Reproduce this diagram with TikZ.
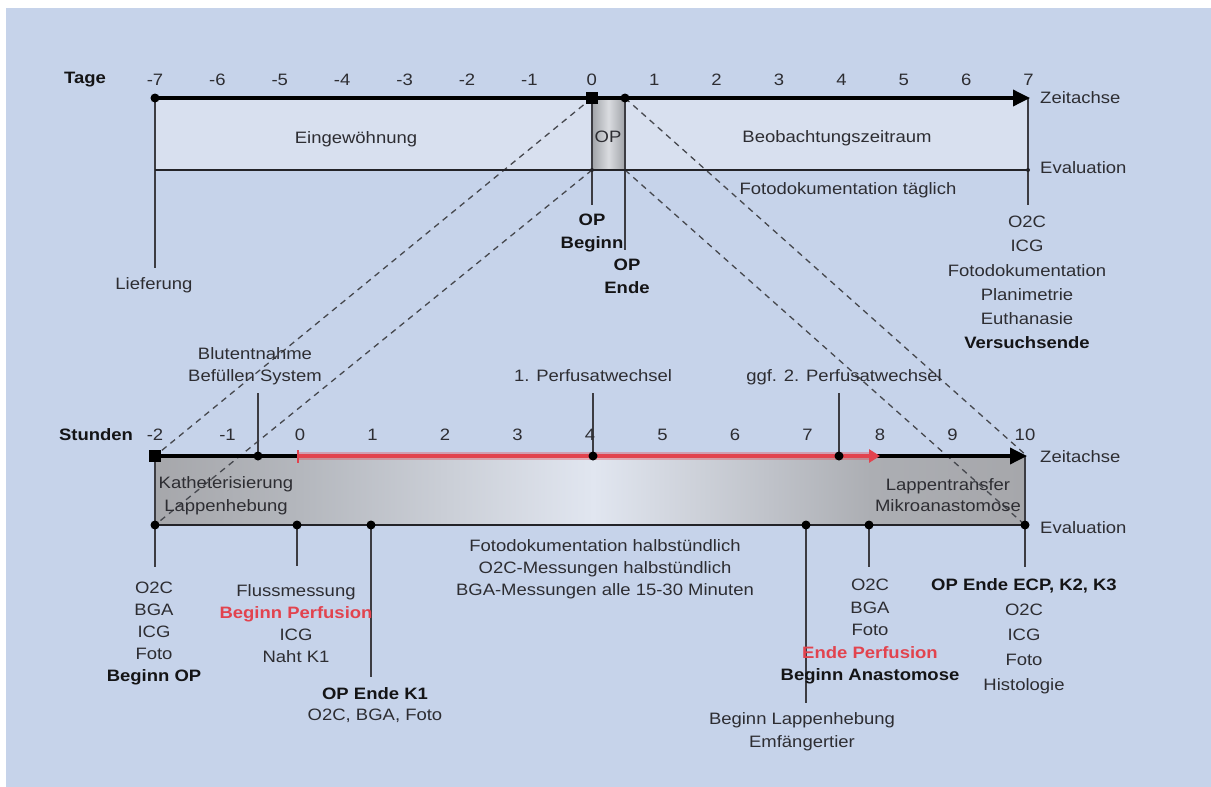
\documentclass[tikz,border=0pt]{standalone}
\usepackage{fontspec}
\setmainfont{Liberation Sans}[FakeStretch=1.12]
\usetikzlibrary{arrows.meta}
\definecolor{bgc}{RGB}{198,211,234}
\definecolor{bandc}{RGB}{216,224,239}
\definecolor{boxga}{RGB}{166,167,171}
\definecolor{boxgb}{RGB}{180,183,189}
\definecolor{boxl}{RGB}{225,230,240}
\definecolor{boxgc}{RGB}{172,174,179}
\definecolor{opg}{RGB}{160,163,168}
\definecolor{opl}{RGB}{218,220,224}
\definecolor{txtc}{RGB}{45,45,50}
\definecolor{boldc}{RGB}{20,20,22}
\definecolor{redc}{RGB}{226,67,78}
\definecolor{evc}{RGB}{35,35,40}
\definecolor{vlc}{RGB}{60,60,66}
\definecolor{dashc}{RGB}{70,72,78}
\newcommand{\fs}[1]{\fontsize{16.5}{#1}\selectfont}
\begin{document}
\begin{tikzpicture}[x=1pt,y=-1pt,
  txt/.style={text=txtc, inner sep=0pt, align=center, font=\fs{22}},
  bld/.style={txt, text=boldc, font=\fs{22}\bfseries},
  axisline/.style={line width=3.5pt, black},
  evalline/.style={line width=2.5pt, evc},
  vline/.style={line width=1.5pt, vlc},
  dashln/.style={dash pattern=on 6pt off 5pt, line width=1.3pt, dashc},
  dot/.style={circle, fill=black, inner sep=0pt, minimum size=9pt},
  smalldot/.style={circle, fill=evc, inner sep=0pt, minimum size=4pt},
  sq/.style={rectangle, fill=black, inner sep=0pt, minimum size=12pt},
  redline/.style={line width=3.8pt, redc}
]
\useasboundingbox (0,0) rectangle (1211,787);
\fill[white] (0,0) rectangle (1211,787);
\fill[bgc] (6,8) rectangle (1211,787);

% ---------- top band ----------
\fill[bandc] (155,98) rectangle (1028,170);
\shade[left color=opg, right color=opg, middle color=opl] (592,98) rectangle (625,170);

% ---------- bottom gradient box ----------
\fill[left color=boxga, right color=boxgb] (155,456) rectangle (300.5,525);
\fill[left color=boxgb, right color=boxl] (300,456) rectangle (593.5,525);
\fill[left color=boxl, right color=boxgc] (593,456) rectangle (870.5,525);
\fill[left color=boxgc, right color=boxga] (870,456) rectangle (1025,525);

% ---------- coordinates ----------
\coordinate (t0) at (155,98);
\coordinate (tarr) at (1030,98);
\coordinate (e0) at (155,170);
\coordinate (eop) at (592,170);
\coordinate (eend) at (625,170);
\coordinate (er) at (1028,170);
\coordinate (b0) at (155,456);
\coordinate (barr) at (1027,456);
\coordinate (f0) at (155,525);
\coordinate (f5) at (1025,525);
\coordinate (bz) at (297,456);
\coordinate (be) at (880,456);

% line ends
\coordinate (liefend) at (155,268);
\coordinate (opbend) at (592,205);
\coordinate (opeend) at (625,250);
\coordinate (rend) at (1028,205);
\coordinate (blutend) at (258,393);
\coordinate (vieend) at (593,393);
\coordinate (ggfend) at (839,393);
\coordinate (l1end) at (155,567);
\coordinate (l2end) at (297,566);
\coordinate (l3end) at (371,677);
\coordinate (l4end) at (806,703);
\coordinate (l5end) at (869,567);
\coordinate (l6end) at (1025,567);

% ---------- dashed zoom lines ----------
\draw[dashln] (592,98) -- (b0);
\draw[dashln] (eop) -- (f0);
\draw[dashln] (625,98) -- (barr);
\draw[dashln] (eend) -- (f5);

% ---------- top vertical lines ----------
\draw[vline] (t0) -- (liefend);
\draw[vline] (592,98) -- (opbend);
\draw[vline] (625,98) -- (opeend);
\draw[vline] (1028,98) -- (rend);

% ---------- top axes ----------
\draw[evalline] (e0) -- (er);
\draw[axisline, -{Triangle[length=17pt,width=16pt]}] (t0) -- (tarr);
\node[dot] (td0) at (t0) {};
\node[sq] (tsq) at (592,98) {};
\node[dot] (tde) at (625,98) {};
\node[smalldot] (ted1) at (eop) {};
\node[smalldot] (ted2) at (er) {};

% ---------- bottom vertical lines ----------
\draw[vline] (258,456) -- (blutend);
\draw[vline] (593,456) -- (vieend);
\draw[vline] (839,456) -- (ggfend);
\draw[vline] (b0) -- (l1end);
\draw[vline] (297,525) -- (l2end);
\draw[vline] (371,525) -- (l3end);
\draw[vline] (806,525) -- (l4end);
\draw[vline] (869,525) -- (l5end);
\draw[vline] (1025,456) -- (l6end);

% ---------- bottom axes ----------
\draw[evalline] (f0) -- (f5);
\draw[axisline, -{Triangle[length=17pt,width=16pt]}] (b0) -- (barr);
\draw[redc, opacity=0.35, line width=7.5pt] (bz) -- (870,456);
\draw[redline, {Bar[width=13pt,line width=2pt]}-{Triangle[length=11pt,width=13pt]}] (bz) -- (be);
\node[sq] (bsq) at (b0) {};
\node[dot] (bd1) at (258,456) {};
\node[dot] (bd2) at (593,456) {};
\node[dot] (bd3) at (839,456) {};
\node[dot] (fd0) at (f0) {};
\node[dot] (fd1) at (297,525) {};
\node[dot] (fd2) at (371,525) {};
\node[dot] (fd3) at (806,525) {};
\node[dot] (fd4) at (869,525) {};
\node[dot] (fd5) at (f5) {};

% ---------- tick labels ----------
\node[bld] (tage) at (85,80) {Tage};
\foreach \d [count=\k] in {-7,...,7}
  \node[txt] (dl\k) at ({155+62.4*(\d+7)},80) {\d};
\node[bld] (stunden) at (96,435) {Stunden};
\foreach \h [count=\k] in {-2,...,10}
  \node[txt] (hl\k) at ({155+72.5*(\h+2)},435) {\h};

% ---------- top texts ----------
\node[txt] (eing) at (356,139) {Eingewöhnung};
\node[txt] (opband) at (608,137) {OP};
\node[txt] (beob) at (837,138) {Beobachtungszeitraum};
\node[txt, anchor=west] (zeit1) at (1040,98) {Zeitachse};
\node[txt, anchor=west] (eval1) at (1040,168) {Evaluation};
\node[txt] (fototgl) at (848,190) {Fotodokumentation täglich};
\node[txt] (lief) at (154,285) {Lieferung};
\node[bld, anchor=north, font=\fs{22.5}\bfseries] (opbeg) at (592,214) {OP\\Beginn};
\node[bld, anchor=north, font=\fs{22.5}\bfseries] (opende) at (627,259) {OP\\Ende};
\node[txt, anchor=north, font=\fs{24.2}] (rlist) at (1027,216)
  {O2C\\ICG\\Fotodokumentation\\Planimetrie\\Euthanasie\\\textcolor{boldc}{\bfseries Versuchsende}};

% ---------- bottom upper texts ----------
\node[txt, anchor=north] (blut) at (255,347) {Blutentnahme\\Befüllen System};
\node[txt] (perf1) at (593,376) {1. Perfusatwechsel};
\node[txt] (perf2) at (844,377) {ggf. 2. Perfusatwechsel};
\node[txt, anchor=north, font=\fs{23}] (kath) at (226,476) {Katheterisierung\\Lappenhebung};
\node[txt, anchor=north, font=\fs{21}] (lapp) at (948,478) {Lappentransfer\\Mikroanastomose};
\node[txt, anchor=west] (zeit2) at (1040,457) {Zeitachse};
\node[txt, anchor=west] (eval2) at (1040,528) {Evaluation};

% ---------- bottom lower texts ----------
\node[txt, anchor=north] (mid) at (605,539)
  {Fotodokumentation halbstündlich\\O2C-Messungen halbstündlich\\BGA-Messungen alle 15-30 Minuten};
\node[txt, anchor=north] (list1) at (154,582)
  {O2C\\BGA\\ICG\\Foto\\\textcolor{boldc}{\bfseries Beginn OP}};
\node[txt, anchor=north] (list2) at (296,584)
  {Flussmessung\\\textcolor{redc}{\bfseries Beginn Perfusion}\\ICG\\Naht K1};
\node[txt, anchor=north, font=\fs{21}] (list3) at (375,687)
  {\textcolor{boldc}{\bfseries OP Ende K1}\\O2C, BGA, Foto};
\node[txt, anchor=north, font=\fs{23}] (list4) at (802,712)
  {Beginn Lappenhebung\\Emfängertier};
\node[txt, anchor=north, font=\fs{22.5}] (list5) at (870,579)
  {O2C\\BGA\\Foto\\\textcolor{redc}{\bfseries Ende Perfusion}\\\textcolor{boldc}{\bfseries Beginn Anastomose}};
\node[txt, anchor=north, font=\fs{25}] (list6) at (1024,578)
  {\textcolor{boldc}{\bfseries OP Ende ECP, K2, K3}\\O2C\\ICG\\Foto\\Histologie};
\end{tikzpicture}
\end{document}
